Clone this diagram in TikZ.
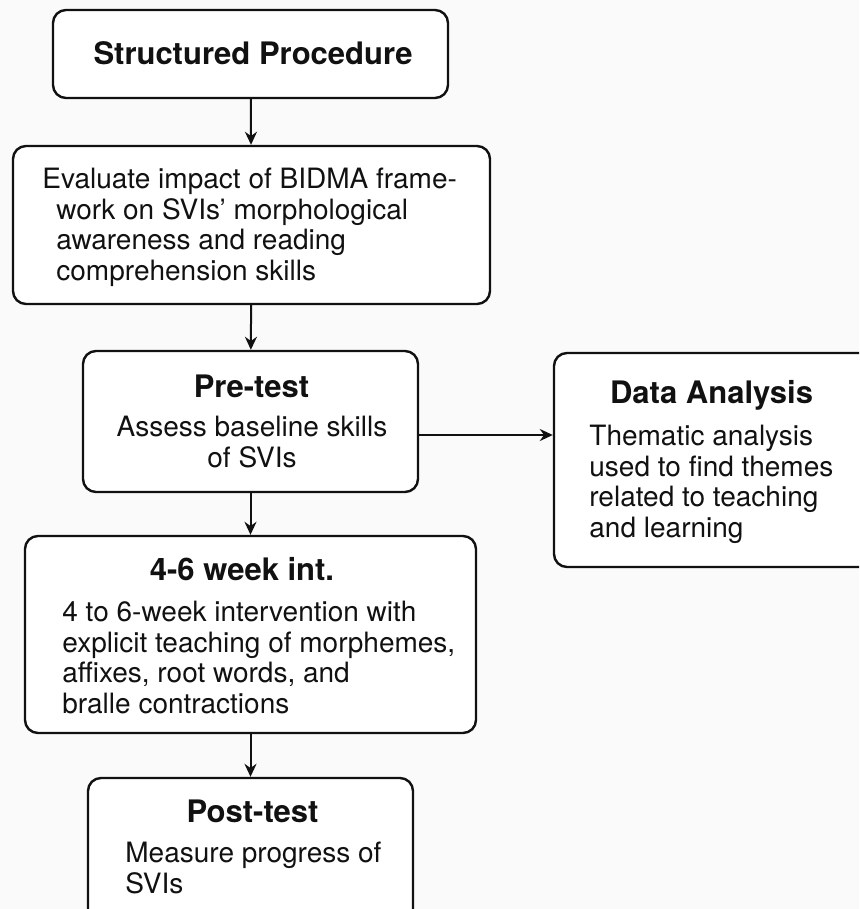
\documentclass[tikz,border=0pt]{standalone}
\usepackage{fontspec}
\setmainfont{TeX Gyre Heros}
\usetikzlibrary{positioning, arrows.meta, calc}
\definecolor{bgpaper}{HTML}{FAFAFA}
\definecolor{ink}{HTML}{111111}

\begin{document}
\begin{tikzpicture}[x=0.5pt, y=-0.5pt,
        box/.style={draw=ink, fill=white, line width=1.2pt, rounded corners=6.5pt, inner sep=0pt},
        ttl/.style={anchor=base, inner sep=0pt, text=ink, font=\fontsize{15.5}{18}\selectfont\bfseries},
        txt/.style={anchor=base west, align=left, inner sep=0pt, text=ink, font=\fontsize{14}{15.25}\selectfont},
        arr/.style={draw=ink, line width=1pt, -{Stealth[length=6.5pt, width=6pt]}}]
      \clip (0,0) rectangle (859,909);
      \fill[bgpaper] (0,0) rectangle (859,909);
      \node[box, minimum width=197.5pt, minimum height=44pt] (sp) at (250.5,54) {};
      \node[box, minimum width=238.5pt, minimum height=79pt] (ev) at (251.5,225) {};
      \node[box, minimum width=167.5pt, minimum height=70.5pt] (pre) at (250.5,421.5) {};
      \node[box, minimum width=163pt, minimum height=107pt] (da) at (717,460) {};
      \node[box, minimum width=225.5pt, minimum height=98.5pt] (wk) at (250.5,634.5) {};
      \node[box, minimum width=162.5pt, minimum height=80pt] (post) at (250.5,858) {};
      \node[ttl] (spt) at (253,65) {Structured Procedure};
      \node[txt] (evx) at (42,280) {Evaluate impact of BIDMA frame-\\\hspace*{7pt}work on SVIs' morphological\\\hspace*{7pt}awareness and reading\\\hspace*{7pt}comprehension skills};
      \node[ttl] (pret) at (251.5,397) {Pre-test};
      \node[txt, anchor=base, align=center] (prex) at (252,467) {Assess baseline skills\\of SVIs};
      \node[ttl] (dat) at (711.5,403) {Data Analysis};
      \node[txt] (dax) at (589,537) {Thematic analysis\\used to find themes\\related to teaching\\and learning};
      \node[ttl] (wkt) at (242,580) {4-6 week int.};
      \node[txt] (wkx) at (62,713) {4 to 6-week intervention with\\explicit teaching of morphemes,\\affixes, root words, and\\bralle contractions};
      \node[ttl] (postt) at (252.5,822) {Post-test};
      \node[txt] (postx) at (125,893) {Measure progress of\\SVIs};
      \draw[arr] (sp) -- (ev);
      \draw[arr] (ev) -- (pre);
      \draw[arr] (pre) -- (wk);
      \draw[arr] (wk) -- (post);
      \draw[arr] ([yshift=-6.75pt]pre.east) -- ([yshift=-6.75pt]pre.east -| da.west);
    \end{tikzpicture}
\end{document}
